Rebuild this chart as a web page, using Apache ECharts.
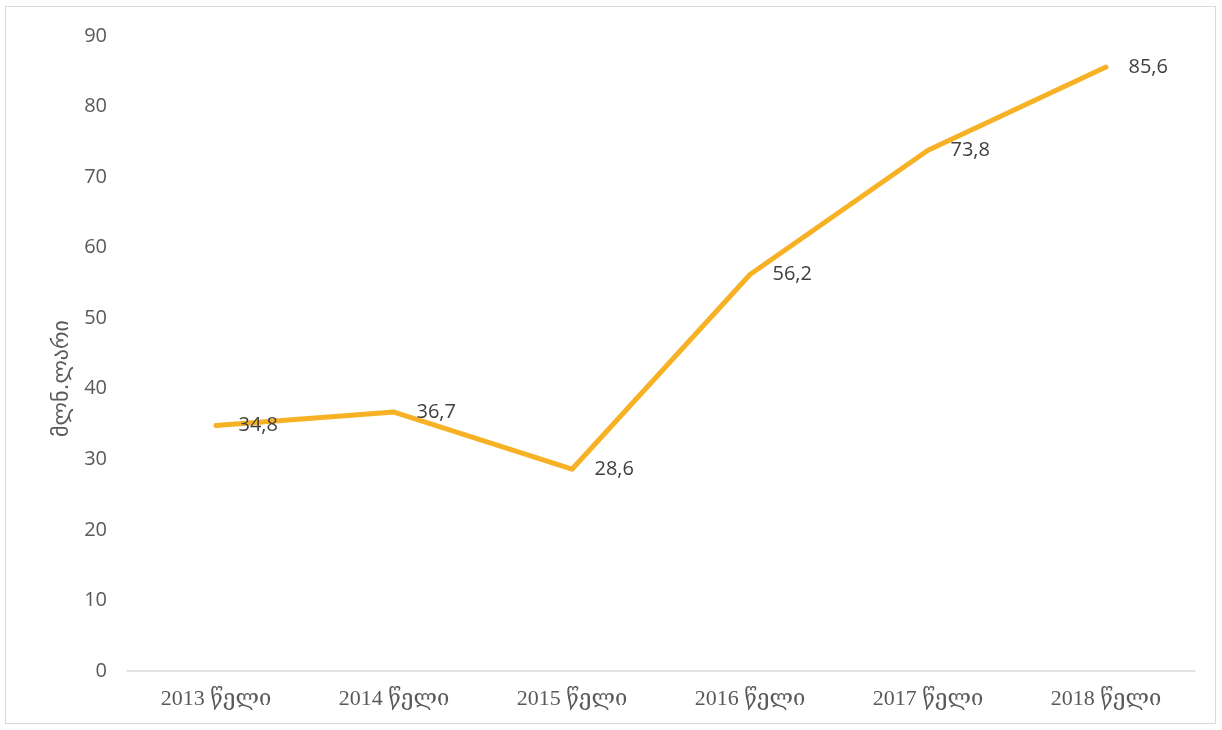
<!DOCTYPE html>
<html><head><meta charset="utf-8">
<script src="https://cdn.jsdelivr.net/npm/echarts@6/dist/echarts.min.js"></script>
<style>html,body{margin:0;padding:0;background:#fff}#wrap{position:absolute;left:5px;top:6px;width:1211px;height:718px;border:1px solid #d9d9d9;box-sizing:border-box}#c{position:absolute;left:0;top:0;width:1222px;height:730px}</style>
</head><body><div id="wrap"></div><div id="c"></div>
<script>
const categories = ['2013 წელი','2014 წელი','2015 წელი','2016 წელი','2017 წელი','2018 წელი'];
const values = [34.8, 36.7, 28.6, 56.2, 73.8, 85.6];
const yAxisName = 'მლნ.ლარი';
const chart = echarts.init(document.getElementById('c'));
chart.setOption({
  animation: false,
  grid: {left: 127, right: 27, top: 36, bottom: 59},
  xAxis: {
    type: 'category', data: categories, boundaryGap: true,
    axisLine: {lineStyle: {color: '#d9d9d9', width: 1.5}},
    axisTick: {show: false},
    axisLabel: {color: '#595959', fontSize: 22, fontFamily: '"Liberation Serif","DejaVu Serif",serif', margin: 17}
  },
  yAxis: {
    type: 'value', min: 0, max: 90, interval: 10,
    name: yAxisName, nameLocation: 'middle', nameGap: 54, nameRotate: 90,
    nameTextStyle: {color: '#595959', fontSize: 22, fontFamily: '"DejaVu Sans",sans-serif', padding: [0,0,0,-50]},
    axisLine: {show: false}, axisTick: {show: false}, splitLine: {show: false},
    axisLabel: {color: '#595959', fontSize: 20, fontFamily: '"Open Sans","Noto Sans",sans-serif', margin: 20}
  },
  series: [{
    type: 'line', data: values, showSymbol: true, symbol: 'circle', symbolSize: 1,
    itemStyle: {color: '#F7B125'},
    lineStyle: {color: '#F7B125', width: 5, cap: 'round', join: 'round'},
    label: {show: true, position: 'right', distance: 22, color: '#404040', fontSize: 20,
      fontFamily: '"Open Sans","Noto Sans",sans-serif',
      formatter: p => String(p.value).replace('.', ',')}
  }]
});
</script></body></html>
